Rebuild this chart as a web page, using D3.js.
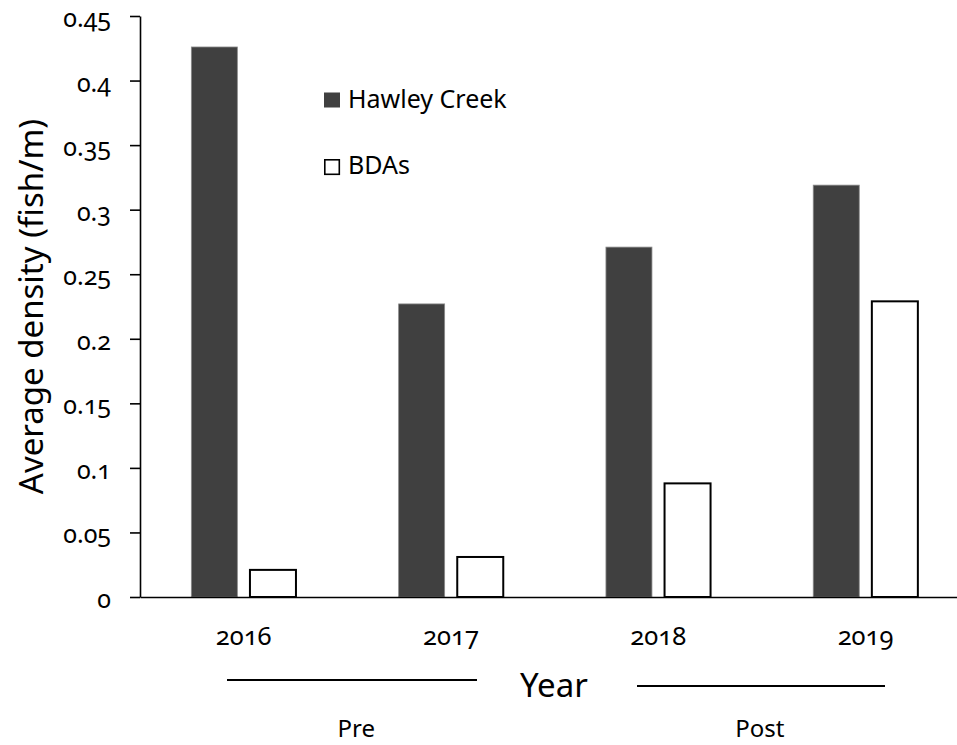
<!DOCTYPE html>
<html>
<head>
<meta charset="utf-8">
<script src="https://cdn.jsdelivr.net/npm/d3@7"></script>
<style>
  html, body { margin: 0; padding: 0; background: #fff; }
  svg { display: block; }
  text { font-family: "Noto Sans", "Open Sans", sans-serif; fill: #000; }
  .num { font-variant-numeric: oldstyle-nums; font-feature-settings: "onum" 1; }
</style>
</head>
<body>
<svg id="chart" width="957" height="745"></svg>
<script>
// ---- data ----
const years = ["2016", "2017", "2018", "2019"];
const series = ["Hawley Creek", "BDAs"];
const hawley = [0.426, 0.227, 0.271, 0.319];
const bdas = [0.021, 0.031, 0.088, 0.229];
const yTickValues = [0, 0.05, 0.1, 0.15, 0.2, 0.25, 0.3, 0.35, 0.4, 0.45];
const yTickLabels = ["0", "0.05", "0.1", "0.15", "0.2", "0.25", "0.3", "0.35", "0.4", "0.45"];
const periods = ["Pre", "Post"];
const periodYears = [["2016", "2017"], ["2018", "2019"]];
const yTitle = "Average density (fish/m)";
const xTitle = "Year";

(function () {
// ---- layout ----
const svg = d3.select("#chart");
const pLeft = 140, pRight = 969.2, pTop = 16, pBottom = 597;

const x = d3.scaleBand().domain(years).range([pLeft, pRight]).padding(0);
const xs = d3.scaleBand().domain(series).range([0, x.bandwidth()])
  .paddingInner(0.215).paddingOuter(0.876);
const y = d3.scaleLinear().domain([0, 0.45]).range([pBottom, pTop]);

const colors = { "Hawley Creek": "#404040", "BDAs": "#ffffff" };
const strokes = { "Hawley Creek": "#8a8a8a", "BDAs": "#000000" };
const strokeW = { "Hawley Creek": 0.8, "BDAs": 2 };

const rows = years.map((yr, i) => ({ year: yr, vals: [
  { s: "Hawley Creek", v: hawley[i] },
  { s: "BDAs", v: bdas[i] }
]}));

// bars
const g = svg.append("g");
g.selectAll("g.cat").data(rows).join("g")
  .attr("class", "cat")
  .attr("transform", d => `translate(${x(d.year)},0)`)
  .selectAll("rect").data(d => d.vals).join("rect")
  .attr("x", d => xs(d.s))
  .attr("width", xs.bandwidth())
  .attr("y", d => y(d.v))
  .attr("height", d => y(0) - y(d.v))
  .attr("fill", d => colors[d.s])
  .attr("stroke", d => strokes[d.s])
  .attr("stroke-width", d => strokeW[d.s]);

// y axis
const yAxis = d3.axisLeft(y)
  .tickValues(yTickValues)
  .tickFormat((d, i) => yTickLabels[i])
  .tickSize(10).tickSizeOuter(0).tickPadding(19);
const ya = svg.append("g").attr("transform", `translate(${pLeft},0)`).call(yAxis);
ya.select(".domain").attr("stroke", "#000").attr("stroke-width", 1.6);
ya.selectAll(".tick line").attr("stroke", "#000").attr("stroke-width", 1.6);
ya.selectAll(".tick text").attr("class", "num")
  .attr("font-size", 25).attr("font-family", null).attr("dy", "0.42em").attr("fill", "#000");

// x axis
const xAxis = d3.axisBottom(x).tickSize(0).tickSizeOuter(0).tickPadding(33);
const xa = svg.append("g").attr("transform", `translate(0,${pBottom})`).call(xAxis);
xa.select(".domain").attr("stroke", "#000").attr("stroke-width", 1.6);
xa.selectAll(".tick text").attr("class", "num")
  .attr("font-size", 25.5).attr("font-family", null).attr("dy", "0.6em").attr("fill", "#000");

// y title
svg.append("text")
  .attr("transform", `translate(43,${(pTop + pBottom) / 2}) rotate(-90)`)
  .attr("text-anchor", "middle")
  .attr("font-size", 33)
  .text(yTitle);

// x title
svg.append("text")
  .attr("x", 554).attr("y", 697)
  .attr("text-anchor", "middle")
  .attr("font-size", 33)
  .text(xTitle);

// period brackets
const periodLines = [[227, 477, 680], [637, 885, 686]];
periods.forEach((p, i) => {
  const [x1, x2, ly] = periodLines[i];
  svg.append("line").attr("x1", x1).attr("x2", x2).attr("y1", ly).attr("y2", ly)
    .attr("stroke", "#000").attr("stroke-width", 1.8);
  const cx = (x(periodYears[i][0]) + x(periodYears[i][1]) + x.bandwidth()) / 2;
  svg.append("text")
    .attr("x", cx + (i === 0 ? 9 : -2)).attr("y", 737)
    .attr("text-anchor", "middle")
    .attr("font-size", 24)
    .text(p);
});

// legend
const legend = svg.append("g");
const legY = [92.5, 159];
series.forEach((s, i) => {
  legend.append("rect")
    .attr("x", i === 0 ? 324 : 324.8).attr("y", legY[i] + (i === 0 ? 0 : 0.8))
    .attr("width", i === 0 ? 16 : 14.5).attr("height", i === 0 ? 15 : 14.5)
    .attr("fill", colors[s])
    .attr("stroke", i === 0 ? "none" : "#000")
    .attr("stroke-width", 1.6);
  legend.append("text")
    .attr("x", 348).attr("y", legY[i] + 15)
    .attr("font-size", 25)
    .text(s);
});
})();
</script>
</body>
</html>
